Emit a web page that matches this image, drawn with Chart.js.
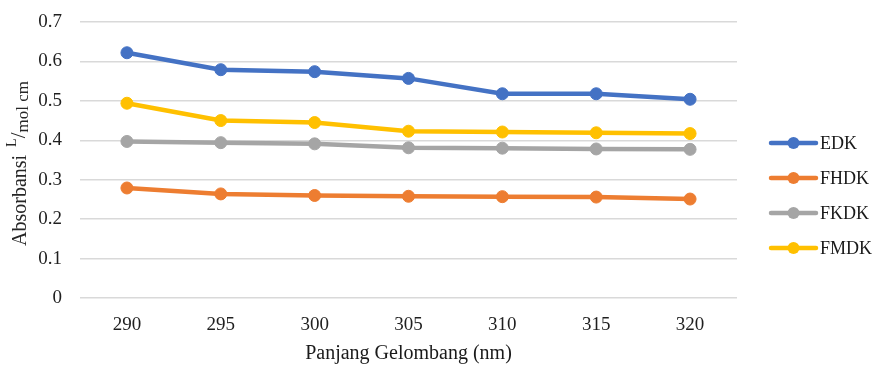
<!DOCTYPE html>
<html>
<head>
<meta charset="utf-8">
<script src="https://cdn.jsdelivr.net/npm/chart.js@4"></script>
<style>
  html, body { margin: 0; padding: 0; background: #ffffff; }
  #wrap { width: 877px; height: 366px; }
</style>
</head>
<body>
<div id="wrap"><canvas id="grafik" width="877" height="366"></canvas></div>
<script>
// data absorbansi per panjang gelombang
const panjangGelombang = ['290', '295', '300', '305', '310', '315', '320'];
const edk  = [0.622, 0.579, 0.574, 0.557, 0.518, 0.518, 0.504];
const fhdk = [0.279, 0.264, 0.260, 0.258, 0.257, 0.256, 0.251];
const fkdk = [0.397, 0.394, 0.391, 0.381, 0.380, 0.378, 0.377];
const fmdk = [0.494, 0.450, 0.445, 0.423, 0.421, 0.419, 0.417];

const SERIF = '"Liberation Serif", "Times New Roman", serif';

function seri(label, data, warna) {
  return {
    label: label,
    data: data,
    borderColor: warna,
    backgroundColor: warna,
    borderWidth: 4.5,
    pointRadius: 6,
    pointHoverRadius: 6,
    pointBorderWidth: 1,
    tension: 0
  };
}

// judul sumbu y dengan pecahan L/mol cm
const judulY = {
  id: 'judulY',
  afterDraw(chart) {
    const ctx = chart.ctx;
    ctx.save();
    ctx.translate(26, 246);
    ctx.rotate(-Math.PI / 2);
    ctx.fillStyle = '#262626';
    ctx.textBaseline = 'alphabetic';
    ctx.textAlign = 'left';
    let x = 0;
    ctx.font = '20px ' + SERIF;
    ctx.fillText('Absorbansi ', x, 0);
    x += ctx.measureText('Absorbansi ').width + 3;
    ctx.font = '14px ' + SERIF;
    ctx.fillText('L', x, -10);
    x += ctx.measureText('L').width;
    ctx.font = '21px ' + SERIF;
    ctx.fillText('/', x, -1);
    x += ctx.measureText('/').width;
    ctx.font = '17px ' + SERIF;
    ctx.fillText('mol cm', x, 2);
    ctx.restore();
  }
};

// legenda di kanan: garis + titik
const legendaKanan = {
  id: 'legendaKanan',
  afterDraw(chart) {
    const ctx = chart.ctx;
    ctx.save();
    chart.data.datasets.forEach((ds, i) => {
      const y = 143 + i * 35;
      ctx.strokeStyle = ds.borderColor;
      ctx.lineWidth = 4.5;
      ctx.lineCap = 'round';
      ctx.beginPath();
      ctx.moveTo(771, y);
      ctx.lineTo(816, y);
      ctx.stroke();
      ctx.fillStyle = ds.borderColor;
      ctx.beginPath();
      ctx.arc(793.5, y, 6, 0, Math.PI * 2);
      ctx.fill();
      ctx.fillStyle = '#1a1a1a';
      ctx.font = '18px ' + SERIF;
      ctx.textBaseline = 'middle';
      ctx.fillText(ds.label, 820, y + 1);
    });
    ctx.restore();
  }
};

new Chart(document.getElementById('grafik'), {
  type: 'line',
  data: {
    labels: panjangGelombang,
    datasets: [
      seri('EDK', edk, '#4472C4'),
      seri('FHDK', fhdk, '#ED7D31'),
      seri('FKDK', fkdk, '#A5A5A5'),
      seri('FMDK', fmdk, '#FFC000')
    ]
  },
  options: {
    responsive: false,
    animation: false,
    layout: { padding: { top: 22, right: 140, left: 0, bottom: 0 } },
    plugins: {
      legend: { display: false },
      tooltip: { enabled: false }
    },
    scales: {
      x: {
        offset: true,
        afterFit(s) { s.height = 68; },
        grid: { display: false },
        border: { display: false },
        ticks: { color: '#1f1f1f', font: { family: SERIF, size: 19 }, padding: 8 },
        title: {
          display: true,
          text: 'Panjang Gelombang (nm)',
          color: '#1a1a1a',
          font: { family: SERIF, size: 20 },
          padding: { top: 0, bottom: 0 }
        }
      },
      y: {
        min: 0,
        max: 0.7,
        afterFit(s) { s.width = 80; },
        grid: { color: '#D9D9D9', lineWidth: 1.5, drawTicks: true, tickLength: 18, tickColor: 'rgba(0,0,0,0)' },
        border: { display: false },
        ticks: {
          stepSize: 0.1,
          color: '#1f1f1f',
          padding: 0,
          font: { family: SERIF, size: 19 },
          callback: v => (Math.round(v * 10) / 10).toString()
        }
      }
    }
  },
  plugins: [judulY, legendaKanan]
});
</script>
</body>
</html>
